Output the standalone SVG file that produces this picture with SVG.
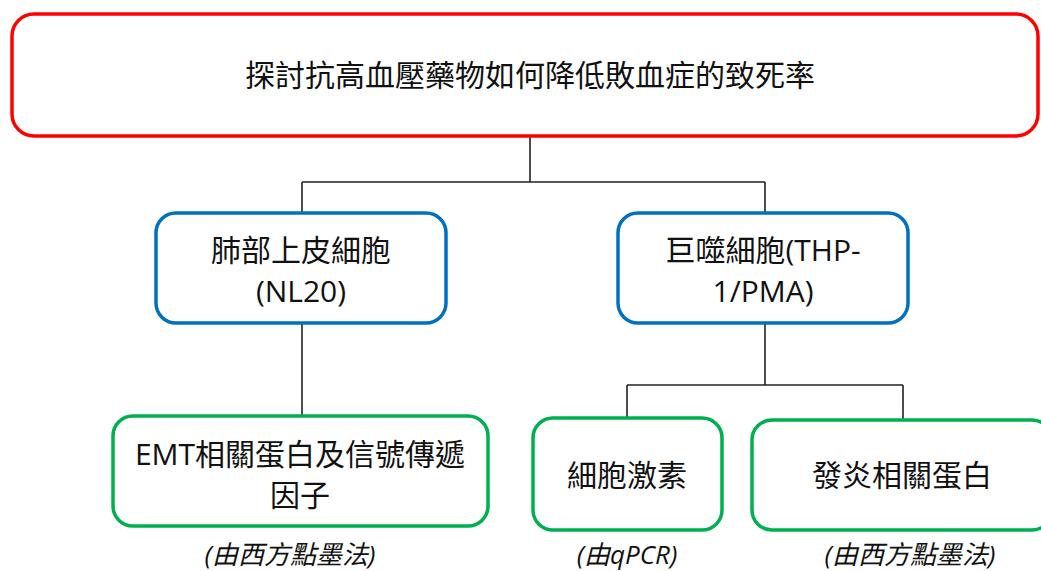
<svg xmlns="http://www.w3.org/2000/svg" width="1041" height="571" viewBox="0 0 1041 571">
<style>
.t{font-family:"Open Sans","Noto Sans CJK TC",sans-serif;font-size:30px;fill:#111;text-anchor:middle}
.c{font-family:"Open Sans","Noto Sans CJK TC",sans-serif;font-size:26px;font-style:italic;fill:#111;text-anchor:middle}
.red{fill:#fff;stroke:#FF0000;stroke-width:3.5}
.blue{fill:#fff;stroke:#0070C0;stroke-width:3.5}
.green{fill:#fff;stroke:#00B050;stroke-width:3.5}
.ln{fill:none;stroke:#222;stroke-width:1.6}
</style>
<rect width="1041" height="571" fill="#fff"/>
<g id="connectors">
<path class="ln" d="M530 136 V182 M302 182 H765 M302 182 V213 M765 182 V213"/>
<path class="ln" d="M302 323 V416"/>
<path class="ln" d="M765 323 V385 M627 385 H903 M627 385 V418 M903 385 V420"/>
</g>
<g id="top">
<rect class="red" x="12" y="14" width="1026" height="122" rx="22"/>
<text class="t" x="530" y="86">探討抗高血壓藥物如何降低敗血症的致死率</text>
</g>
<g id="lung">
<rect class="blue" x="156" y="213" width="290" height="110" rx="20"/>
<text class="t" x="301" y="261">肺部上皮細胞</text>
<text class="t" x="301" y="302">(NL20)</text>
</g>
<g id="macro">
<rect class="blue" x="618" y="213" width="290" height="110" rx="20"/>
<text class="t" x="763" y="261">巨噬細胞(THP-</text>
<text class="t" x="763" y="302">1/PMA)</text>
</g>
<g id="emt">
<rect class="green" x="113" y="416" width="375" height="110" rx="20"/>
<text class="t" x="300" y="465">EMT相關蛋白及信號傳遞</text>
<text class="t" x="300" y="506">因子</text>
<text class="c" x="290" y="564">(由西方點墨法)</text>
</g>
<g id="cytokine">
<rect class="green" x="533" y="418" width="189" height="112" rx="20"/>
<text class="t" x="627" y="486">細胞激素</text>
<text class="c" x="627" y="564">(由qPCR)</text>
</g>
<g id="inflam">
<rect class="green" x="752" y="420" width="300" height="110" rx="20"/>
<text class="t" x="902" y="486">發炎相關蛋白</text>
<text class="c" x="910" y="564">(由西方點墨法)</text>
</g>
</svg>
